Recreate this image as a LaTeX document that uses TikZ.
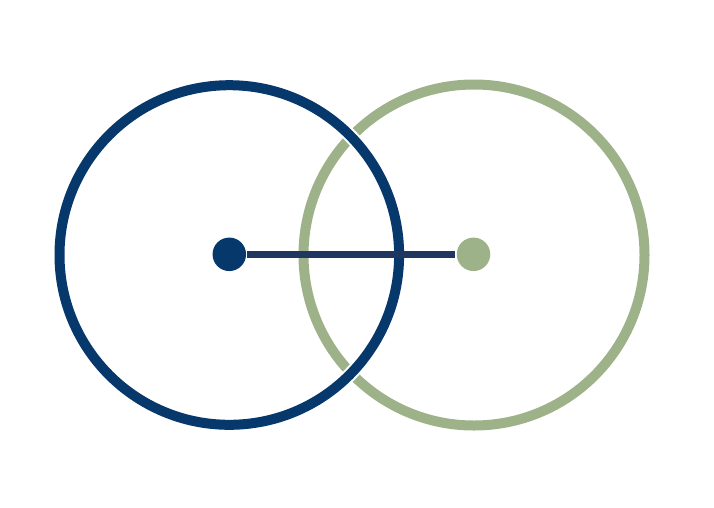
\documentclass[tikz,border=0pt]{standalone}
\definecolor{cblue}{HTML}{06386C}
\definecolor{cgreen}{HTML}{9DB289}
\definecolor{cline}{HTML}{1E3660}
\tikzset{
  ring/.style={line width=10pt},
  halo/.style={line width=14pt, white},
  dot/.style={circle, minimum size=33.5pt, inner sep=0pt},
}
\begin{document}
\begin{tikzpicture}[x=1pt,y=-1pt]
\useasboundingbox (0,0) rectangle (714,507);
\coordinate (bc) at (229.3,255);
\coordinate (gc) at (474,255);
\draw[ring, cgreen] (gc) circle[radius=170.5];
\draw[halo] (bc) circle[radius=169.8];
\draw[ring, cblue] (bc) circle[radius=169.8];
\node[dot, fill=cblue] (b) at (229.3,254.3) {};
\node[dot, fill=cgreen] (g) at (473.5,254.3) {};
\draw[cline, line width=6.5pt, shorten <=1pt, shorten >=1.5pt] (b.east) -- (g.west);
\end{tikzpicture}
\end{document}
